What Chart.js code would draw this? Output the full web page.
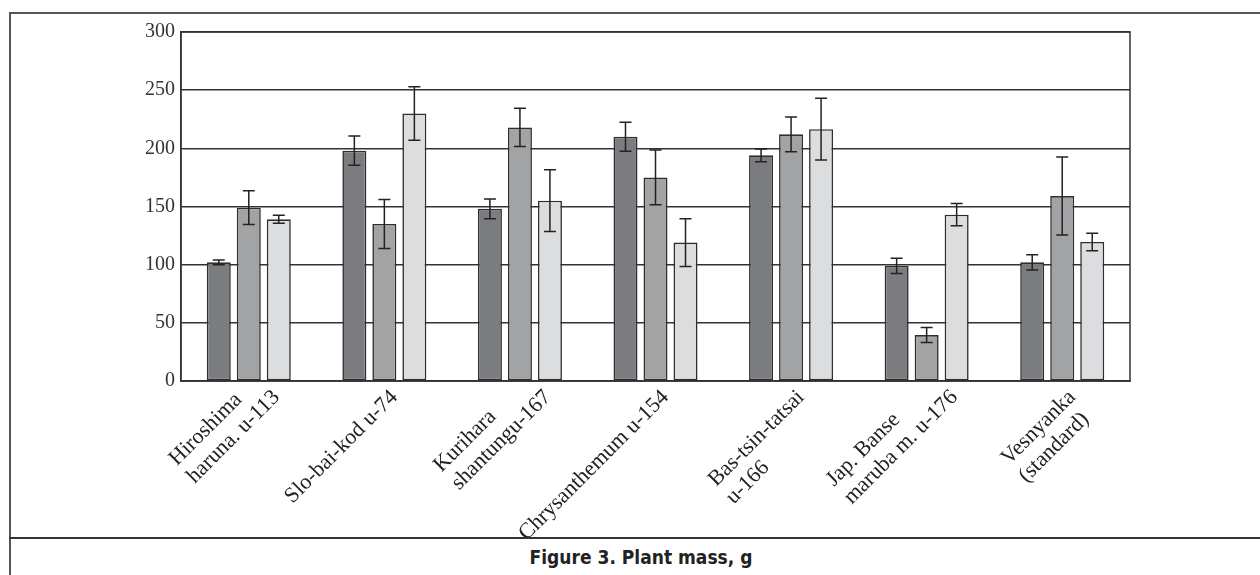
<!DOCTYPE html>
<html>
<head>
<meta charset="utf-8">
<script src="https://cdn.jsdelivr.net/npm/chart.js@4.4.1/dist/chart.umd.min.js"></script>
<style>
  html, body { margin:0; padding:0; background:#fff; width:1260px; height:575px; overflow:hidden; }
  #frame { position:absolute; left:9px; top:12px; width:1300px; height:620px; border-top:2px solid #555; border-left:2px solid #555; }
  #sep { position:absolute; left:9px; top:537px; width:1300px; border-top:2px solid #333; }
  #wrap { position:absolute; left:11px; top:14px; width:1249px; height:523px; }
  #cap { position:absolute; left:11px; top:546px; width:1260px; text-align:center; font:bold 19px "DejaVu Sans Condensed", "DejaVu Sans", sans-serif; color:#222; line-height:22px; }
</style>
</head>
<body>
<div id="frame"></div>
<div id="sep"></div>
<div id="wrap"><canvas id="c"></canvas></div>
<div id="cap">Figure 3. Plant mass, g</div>
<script>
// ---- data ----
const categories = [
  ["Hiroshima", "haruna. u-113"],
  ["Slo-bai-kod u-74"],
  ["Kurihara", "shantungu-167"],
  ["Chrysanthemum u-154"],
  ["Bas-tsin-tatsai", "u-166"],
  ["Jap. Banse", "maruba m. u-176"],
  ["Vesnyanka", "(standard)"]
];
const series1 = [102, 198, 148, 210, 194, 99, 102];
const errors1 = [2, 12.5, 8.5, 12.5, 5.5, 6.5, 6.5];
const series2 = [149, 135, 218, 175, 212, 39.5, 159];
const errors2 = [14.5, 21, 16.5, 23.5, 15, 6.5, 33.5];
const series3 = [139, 230, 155, 119, 216.5, 143, 119.5];
const errors3 = [3.5, 23, 26.5, 20.5, 26.5, 9.5, 7.5];
const yTicks = [0, 50, 100, 150, 200, 250, 300];

// ---- plugins ----
const errorBars = {
  id: 'errorBars',
  afterDatasetsDraw(chart) {
    const ctx = chart.ctx, y = chart.scales.y;
    ctx.save();
    ctx.strokeStyle = '#222';
    ctx.lineWidth = 1.5;
    chart.data.datasets.forEach((ds, di) => {
      const meta = chart.getDatasetMeta(di);
      meta.data.forEach((bar, i) => {
        const v = ds.data[i], e = ds.errors[i];
        const yt = y.getPixelForValue(v + e), yb = y.getPixelForValue(v - e);
        const x = bar.x, cap = 6;
        ctx.beginPath();
        ctx.moveTo(x, yt); ctx.lineTo(x, yb);
        ctx.moveTo(x - cap, yt); ctx.lineTo(x + cap, yt);
        ctx.moveTo(x - cap, yb); ctx.lineTo(x + cap, yb);
        ctx.stroke();
      });
    });
    ctx.restore();
  }
};

const plotFrame = {
  id: 'plotFrame',
  afterDatasetsDraw(chart) {
    const a = chart.chartArea, ctx = chart.ctx;
    ctx.save();
    ctx.strokeStyle = '#333';
    ctx.lineWidth = 1.5;
    ctx.strokeRect(a.left, a.top, a.right - a.left, a.bottom - a.top);
    ctx.restore();
  }
};

const xLabels = {
  id: 'xLabels',
  afterDraw(chart) {
    const sc = chart.scales.x, ctx = chart.ctx;
    const c = Math.SQRT1_2, lh = 25, DX = 10, DY = 13;
    ctx.save();
    ctx.font = '22px "Liberation Serif", serif';
    ctx.fillStyle = '#222';
    ctx.textBaseline = 'middle';
    ctx.textAlign = 'left';
    chart.data.labels.forEach((lab, i) => {
      const lines = Array.isArray(lab) ? lab : [lab];
      const ws = lines.map(l => ctx.measureText(l).width);
      const W = Math.max(...ws);
      const top = Math.min(...ws.map((w, k) => c * (W - w + k * lh)));
      const ax = sc.getPixelForTick(i) + DX;
      const ay = sc.top + DY - top;
      ctx.save();
      ctx.translate(ax, ay);
      ctx.rotate(-Math.PI / 4);
      lines.forEach((l, k) => ctx.fillText(l, -W, k * lh));
      ctx.restore();
    });
    ctx.restore();
  }
};

const barStyle = { borderColor: '#2e2e2e', borderWidth: 1.6, borderSkipped: false,
                   categoryPercentage: 0.664, barPercentage: 0.8 };

new Chart(document.getElementById('c'), {
  type: 'bar',
  data: {
    labels: categories,
    datasets: [
      Object.assign({ label: 'Series 1', data: series1, errors: errors1, backgroundColor: '#7b7c80' }, barStyle),
      Object.assign({ label: 'Series 2', data: series2, errors: errors2, backgroundColor: '#a2a3a5' }, barStyle),
      Object.assign({ label: 'Series 3', data: series3, errors: errors3, backgroundColor: '#dcdddf' }, barStyle)
    ]
  },
  options: {
    responsive: true,
    maintainAspectRatio: false,
    animation: false,
    layout: { padding: { left: 0, top: 13, right: 130, bottom: 0 } },
    plugins: { legend: { display: false }, tooltip: { enabled: false }, title: { display: false } },
    scales: {
      x: {
        grid: { display: false },
        border: { display: true, color: '#333', width: 1.5 },
        ticks: { display: false },
        afterFit(s) { s.height = 156; }
      },
      y: {
        min: 0, max: 300,
        afterBuildTicks(s) { s.ticks = yTicks.map(v => ({ value: v })); },
        ticks: { padding: 6, color: '#333', font: { family: '"Liberation Serif", serif', size: 20 } },
        grid: { color: '#333', lineWidth: 1.5, drawTicks: false },
        border: { display: true, color: '#333', width: 1.5 },
        afterFit(s) { s.width = 170; }
      }
    }
  },
  plugins: [errorBars, plotFrame, xLabels]
});
</script>
</body>
</html>
